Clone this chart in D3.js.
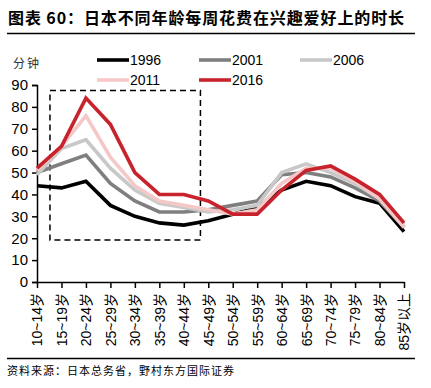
<!DOCTYPE html>
<html>
<head>
<meta charset="utf-8">
<script src="https://cdn.jsdelivr.net/npm/d3@7"></script>
<style>
html,body{margin:0;padding:0;background:#fff;}
svg{display:block;}
</style>
</head>
<body>
<svg id="chart" width="431" height="388"></svg>
<script>
const categories = ["10~14岁","15~19岁","20~24岁","25~29岁","30~34岁","35~39岁","40~44岁","45~49岁","50~54岁","55~59岁","60~64岁","65~69岁","70~74岁","75~79岁","80~84岁","85岁以上"];
const years = ["1996","2001","2006","2011","2016"];
const v1996 = [44,43,46,35,30,27,26,28,31,34,42,46,44,39,36,23];
const v2001 = [50,54,58,45,37,32,32,33,35,37,49,50,48,43,37,25];
const v2006 = [49,61,65,52,42,36,34,32,33,35,50,54,50,45,38,26];
const v2011 = [51,62,76,57,44,37,35,33,31,33,45,52,52,46,38,25];
const v2016 = [52,62,84,72,50,40,40,37,31,31,42,51,53,47,40,27];
const yTicks = [0,10,20,30,40,50,60,70,80,90];
const colors = ["#000000","#7f7f7f","#c8c8c8","#f5c8c8","#c8232c"];
const title = "图表 60：日本不同年龄每周花费在兴趣爱好上的时长";
const unit = "分钟";
const source = "资料来源：日本总务省，野村东方国际证券";

const seriesData = [v1996,v2001,v2006,v2011,v2016];

const svg = d3.select("#chart");
const x = d3.scalePoint().domain(categories).range([37,404]);
const y = d3.scaleLinear().domain([0,90]).range([282,85]);
const step = x.step();

// title
svg.append("text").attr("x",8).attr("y",24)
  .attr("font-family","'Noto Sans CJK SC'").attr("font-weight","bold")
  .attr("font-size",16).attr("letter-spacing","0.9px").attr("fill","#000").text(title);
svg.append("line").attr("x1",7).attr("x2",415).attr("y1",33.5).attr("y2",33.5)
  .attr("stroke","#000").attr("stroke-width",1.3);

// unit
svg.append("text").attr("x",13).attr("y",68)
  .attr("font-family","'Noto Sans CJK SC'").attr("font-size",12).attr("letter-spacing","2px")
  .attr("fill","#333").text(unit);

// y axis
const yAxis = svg.append("g").attr("transform","translate(37,0)")
  .call(d3.axisLeft(y).tickValues(yTicks).tickSize(5).tickPadding(4));
yAxis.selectAll("text").attr("font-family","'Liberation Sans',Arial").attr("font-size",15).attr("fill","#000");
yAxis.selectAll("line,path").attr("stroke","#000").attr("stroke-width",1.5);

// x axis
const xAxis = svg.append("g").attr("transform","translate(0,282)")
  .call(d3.axisBottom(x).tickSize(6).tickSizeOuter(0));
xAxis.select("path").attr("stroke","#000").attr("stroke-width",1.5);
xAxis.selectAll("line").attr("stroke","#000").attr("stroke-width",1.5);
xAxis.selectAll("text")
  .attr("font-family","'Liberation Sans','Noto Sans CJK SC',Arial").attr("font-size",14).attr("fill","#000")
  .attr("transform","rotate(-90)")
  .attr("text-anchor","end")
  .attr("x",-11).attr("y",0).attr("dy","0.35em");

// dashed box
svg.append("rect")
  .attr("x", x(categories[0]) + step*0.53)
  .attr("y", y(87.5))
  .attr("width", (x(categories[6]) + step*0.68) - (x(categories[0]) + step*0.53))
  .attr("height", y(19.2) - y(87.5))
  .attr("fill","none").attr("stroke","#000").attr("stroke-width",1.5).attr("stroke-dasharray","6,4");

// lines
const line = d3.line().x((d,i)=>x(categories[i])).y(d=>y(d));
seriesData.forEach((vals,k)=>{
  svg.append("path").datum(vals).attr("d",line)
    .attr("fill","none").attr("stroke",colors[k]).attr("stroke-width",3.6)
    .attr("stroke-linejoin","miter");
});

// legend
const legendPos = [[97,60],[199,60],[300,60],[97,80],[199,80]];
years.forEach((yr,k)=>{
  const [lx,ly] = legendPos[k];
  svg.append("line").attr("x1",lx).attr("x2",lx+32).attr("y1",ly).attr("y2",ly)
    .attr("stroke",colors[k]).attr("stroke-width",3.6);
  svg.append("text").attr("x",lx+33).attr("y",ly+5)
    .attr("font-family","'Liberation Sans',Arial").attr("font-size",14).attr("fill","#000").text(yr);
});

// footer
svg.append("line").attr("x1",7).attr("x2",415).attr("y1",358.5).attr("y2",358.5)
  .attr("stroke","#000").attr("stroke-width",1.3);
svg.append("text").attr("x",7).attr("y",375)
  .attr("font-family","'Noto Sans CJK SC'").attr("font-size",11).attr("letter-spacing","1px")
  .attr("fill","#000").text(source);
</script>
</body>
</html>
